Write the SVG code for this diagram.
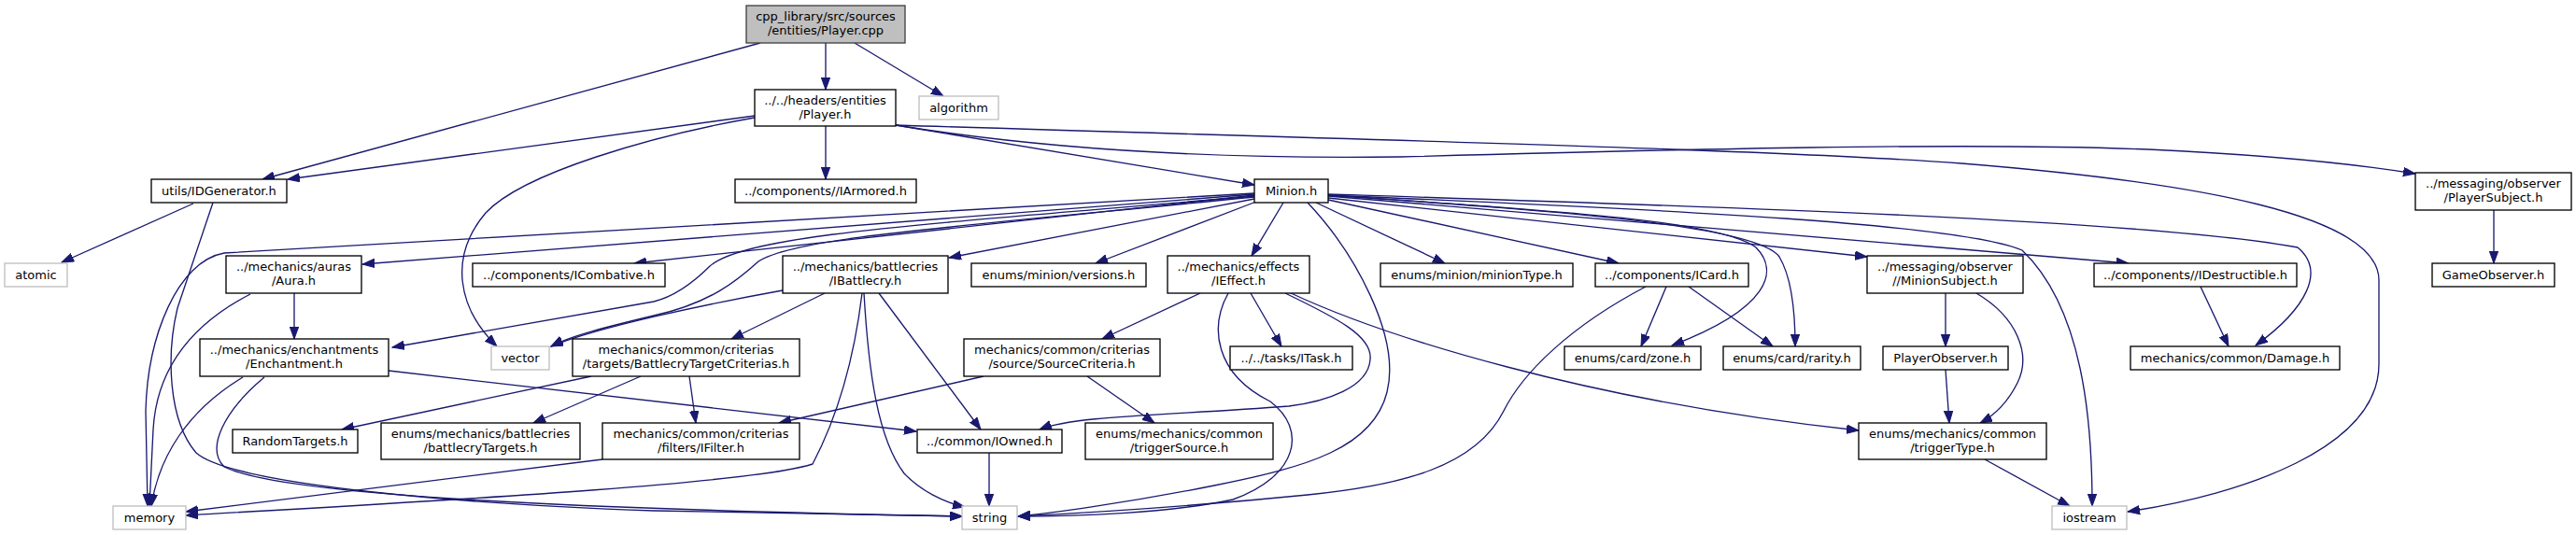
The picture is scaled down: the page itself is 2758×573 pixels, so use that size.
<svg xmlns="http://www.w3.org/2000/svg" width="2758" height="573" viewBox="0 0 2758 573">
<defs>
<marker id="ah" markerUnits="userSpaceOnUse" markerWidth="14" markerHeight="10" refX="13" refY="4.7" orient="auto"><path d="M0,0 L13,4.7 L0,9.4 z" fill="#191970" stroke="#191970" stroke-width="1"/></marker>
<style>
.n rect{fill:#fff;stroke:#000;stroke-width:1.33}
.s rect{fill:#fff;stroke:#bfbfbf;stroke-width:1.33}
.r rect{fill:#bfbfbf;stroke:#404040;stroke-width:1.33}
text{font-family:"DejaVu Sans","Liberation Sans",sans-serif;font-size:13px;fill:#000;text-anchor:middle}
.e path{fill:none;stroke:#191970;stroke-width:1.33;marker-end:url(#ah)}
</style>
</defs>
<rect width="2758" height="573" fill="#fff"/>
<g class="e" id="edges">
<path d="M884,46 L884,96"/>
<path d="M915,46 L1010,103"/>
<path d="M814,46 L281,192"/>
<path d="M808,124 L308,192"/>
<path d="M884,135 L884,192"/>
<path d="M959,134 L1343,198"/>
<path d="M808,126 C700,145 560,185 520,228 C480,275 490,330 532,371"/>
<path d="M959,134 C1150,165 1350,170 1500,168 C1800,160 2100,152 2300,160 C2450,167 2530,177 2586,186"/>
<path d="M959,134 C1400,148 1900,160 2100,175 C2350,195 2547,230 2547,300 L2547,390 C2547,480 2400,530 2278,548"/>
<path d="M207,218 L66,281"/>
<path d="M228,217 L190,330 C178,380 180,450 210,485 C250,520 500,540 700,547 L1030,553"/>
<path d="M315,314 L315,363"/>
<path d="M268,315 C210,345 168,390 164,460 L160,542"/>
<path d="M1343,208 L388,283"/>
<path d="M1343,207 L240,271 C190,280 158,360 156,440 L158,542"/>
<path d="M1343,209 L679,282"/>
<path d="M1343,210 C1000,240 800,250 760,285 C740,305 720,318 700,323 L420,372"/>
<path d="M1343,211 C1000,245 850,255 812,280 C790,300 760,325 700,338 C650,350 610,360 590,371"/>
<path d="M1343,213 L1016,276"/>
<path d="M1345,216 L1173,282"/>
<path d="M1374,217 L1340,274"/>
<path d="M1409,217 L1547,282"/>
<path d="M1422,214 L1733,282"/>
<path d="M1422,209 C1650,225 1840,235 1880,265 C1905,290 1895,330 1790,370"/>
<path d="M1422,209 C1650,225 1880,240 1905,275 C1920,300 1922,340 1922,371"/>
<path d="M1422,212 L1999,275"/>
<path d="M1422,210 L2279,282"/>
<path d="M1422,208 C1800,220 2300,235 2460,265 C2490,290 2470,330 2415,370"/>
<path d="M1422,209 C1800,225 2100,240 2165,268 C2230,330 2240,450 2240,542"/>
<path d="M1400,217 C1450,270 1500,360 1485,420 C1470,480 1400,500 1300,520 C1200,540 1120,550 1090,553"/>
<path d="M1784,307 L1757,371"/>
<path d="M1808,307 L1898,371"/>
<path d="M1762,307 C1680,350 1630,400 1610,440 C1580,500 1500,520 1400,530 C1250,545 1150,550 1090,553"/>
<path d="M1285,314 L1180,363"/>
<path d="M1339,314 L1372,371"/>
<path d="M1315,314 C1295,350 1300,400 1360,430 C1400,460 1390,510 1320,535 C1250,550 1150,553 1090,553"/>
<path d="M1376,314 C1430,340 1470,360 1467,385 C1465,415 1420,430 1380,435 C1250,445 1150,445 1113,460"/>
<path d="M1380,313 C1480,360 1700,430 1990,461"/>
<path d="M883,314 L783,363"/>
<path d="M838,311 C760,325 640,350 590,371"/>
<path d="M923,314 C915,380 900,440 870,497 C800,520 400,540 199,552"/>
<path d="M925,314 C930,400 940,470 968,507 C985,525 1010,538 1033,543"/>
<path d="M941,314 L1050,460"/>
<path d="M633,403 L366,460"/>
<path d="M686,403 L571,453"/>
<path d="M738,403 L745,453"/>
<path d="M1053,403 L834,453"/>
<path d="M1164,403 L1236,453"/>
<path d="M645,492 L199,548"/>
<path d="M260,404 C200,440 170,490 162,542"/>
<path d="M283,404 C240,440 220,480 240,500 C300,530 600,545 1030,553"/>
<path d="M416,397 L981,462"/>
<path d="M1059,485 L1059,542"/>
<path d="M2083,314 L2083,371"/>
<path d="M2116,314 C2160,340 2175,380 2160,410 C2150,430 2135,445 2120,453"/>
<path d="M2083,396 L2087,453"/>
<path d="M2125,492 L2216,542"/>
<path d="M2356,307 L2386,371"/>
<path d="M2670,225 L2670,282"/>
</g>
<g id="cpp" class="r"><rect x="799" y="6" width="170" height="40"/><text x="884" y="22">cpp_library/src/sources</text><text x="884" y="37">/entities/Player.cpp</text></g>
<g id="playerh" class="n"><rect x="808" y="96" width="151" height="39"/><text x="883.5" y="112">../../headers/entities</text><text x="883.5" y="127">/Player.h</text></g>
<g id="algorithm" class="s"><rect x="984" y="103" width="85" height="25"/><text x="1026.5" y="120">algorithm</text></g>
<g id="idgen" class="n"><rect x="162" y="192" width="145" height="25"/><text x="234.5" y="209">utils/IDGenerator.h</text></g>
<g id="iarmored" class="n"><rect x="787" y="192" width="194" height="25"/><text x="884" y="209">../components//IArmored.h</text></g>
<g id="minion" class="n"><rect x="1343" y="192" width="79" height="25"/><text x="1382.5" y="209">Minion.h</text></g>
<g id="playersubject" class="n"><rect x="2586" y="185" width="167" height="40"/><text x="2669.5" y="201">../messaging/observer</text><text x="2669.5" y="216">/PlayerSubject.h</text></g>
<g id="atomic" class="s"><rect x="5" y="282" width="67" height="25"/><text x="38.5" y="299">atomic</text></g>
<g id="aura" class="n"><rect x="242" y="274" width="145" height="40"/><text x="314.5" y="290">../mechanics/auras</text><text x="314.5" y="305">/Aura.h</text></g>
<g id="icombative" class="n"><rect x="506" y="282" width="206" height="25"/><text x="609" y="299">../components/ICombative.h</text></g>
<g id="ibattlecry" class="n"><rect x="838" y="274" width="177" height="40"/><text x="926.5" y="290">../mechanics/battlecries</text><text x="926.5" y="305">/IBattlecry.h</text></g>
<g id="versions" class="n"><rect x="1040" y="282" width="187" height="25"/><text x="1133.5" y="299">enums/minion/versions.h</text></g>
<g id="ieffect" class="n"><rect x="1250" y="274" width="152" height="40"/><text x="1326" y="290">../mechanics/effects</text><text x="1326" y="305">/IEffect.h</text></g>
<g id="miniontype" class="n"><rect x="1478" y="282" width="206" height="25"/><text x="1581" y="299">enums/minion/minionType.h</text></g>
<g id="icard" class="n"><rect x="1708" y="282" width="164" height="25"/><text x="1790" y="299">../components/ICard.h</text></g>
<g id="minionsubject" class="n"><rect x="1999" y="274" width="167" height="40"/><text x="2082.5" y="290">../messaging/observer</text><text x="2082.5" y="305">//MinionSubject.h</text></g>
<g id="idestructible" class="n"><rect x="2242" y="282" width="217" height="25"/><text x="2350.5" y="299">../components//IDestructible.h</text></g>
<g id="gameobserver" class="n"><rect x="2604" y="282" width="131" height="25"/><text x="2669.5" y="299">GameObserver.h</text></g>
<g id="enchantment" class="n"><rect x="214" y="363" width="202" height="40"/><text x="315" y="379">../mechanics/enchantments</text><text x="315" y="394">/Enchantment.h</text></g>
<g id="vector" class="s"><rect x="526" y="371" width="62" height="25"/><text x="557" y="388">vector</text></g>
<g id="btc" class="n"><rect x="613" y="363" width="243" height="40"/><text x="734.5" y="379">mechanics/common/criterias</text><text x="734.5" y="394">/targets/BattlecryTargetCriterias.h</text></g>
<g id="sourcecriteria" class="n"><rect x="1032" y="363" width="210" height="40"/><text x="1137" y="379">mechanics/common/criterias</text><text x="1137" y="394">/source/SourceCriteria.h</text></g>
<g id="itask" class="n"><rect x="1317" y="371" width="131" height="25"/><text x="1382.5" y="388">../../tasks/ITask.h</text></g>
<g id="zone" class="n"><rect x="1675" y="371" width="146" height="25"/><text x="1748" y="388">enums/card/zone.h</text></g>
<g id="rarity" class="n"><rect x="1845" y="371" width="147" height="25"/><text x="1918.5" y="388">enums/card/rarity.h</text></g>
<g id="playerobserver" class="n"><rect x="2016" y="371" width="134" height="25"/><text x="2083" y="388">PlayerObserver.h</text></g>
<g id="damage" class="n"><rect x="2281" y="371" width="224" height="25"/><text x="2393" y="388">mechanics/common/Damage.h</text></g>
<g id="randomtargets" class="n"><rect x="249" y="460" width="134" height="25"/><text x="316" y="477">RandomTargets.h</text></g>
<g id="battlecrytargets" class="n"><rect x="408" y="453" width="213" height="39"/><text x="514.5" y="469">enums/mechanics/battlecries</text><text x="514.5" y="484">/battlecryTargets.h</text></g>
<g id="ifilter" class="n"><rect x="645" y="453" width="211" height="39"/><text x="750.5" y="469">mechanics/common/criterias</text><text x="750.5" y="484">/filters/IFilter.h</text></g>
<g id="iowned" class="n"><rect x="982" y="460" width="155" height="25"/><text x="1059.5" y="477">../common/IOwned.h</text></g>
<g id="triggersource" class="n"><rect x="1162" y="453" width="201" height="39"/><text x="1262.5" y="469">enums/mechanics/common</text><text x="1262.5" y="484">/triggerSource.h</text></g>
<g id="triggertype" class="n"><rect x="1990" y="453" width="201" height="39"/><text x="2090.5" y="469">enums/mechanics/common</text><text x="2090.5" y="484">/triggerType.h</text></g>
<g id="memory" class="s"><rect x="121" y="542" width="78" height="25"/><text x="160" y="559">memory</text></g>
<g id="string" class="s"><rect x="1030" y="542" width="59" height="25"/><text x="1059.5" y="559">string</text></g>
<g id="iostream" class="s"><rect x="2197" y="542" width="80" height="25"/><text x="2237" y="559">iostream</text></g>
</svg>
